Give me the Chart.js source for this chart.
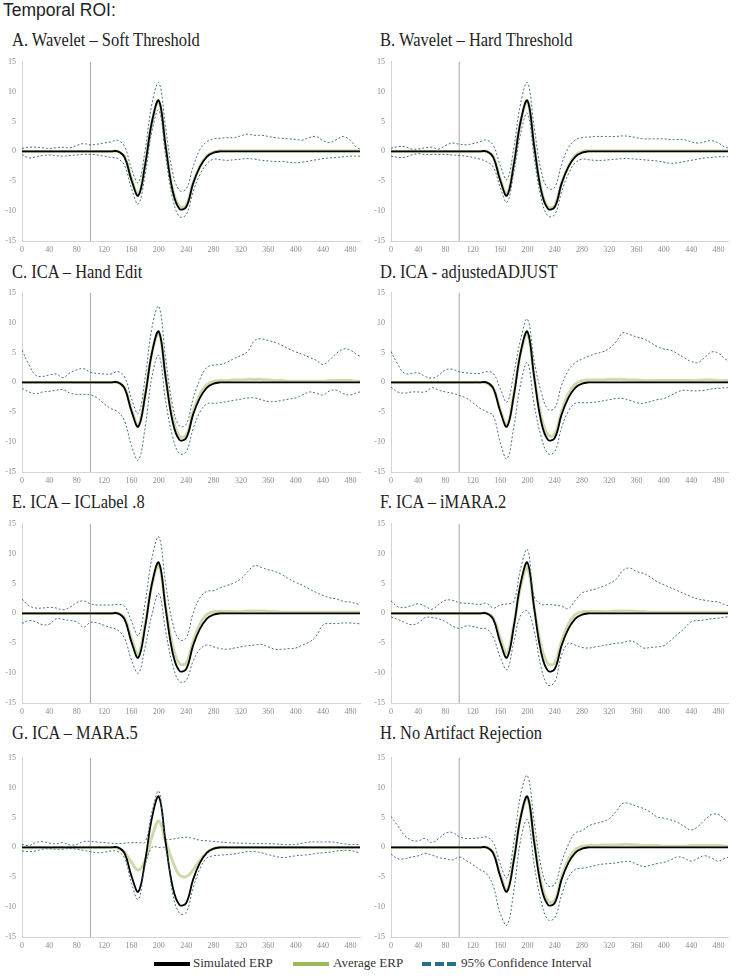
<!DOCTYPE html>
<html>
<head>
<meta charset="utf-8">
<title>Temporal ROI</title>
<script src="https://cdn.jsdelivr.net/npm/chart.js@4"></script>
<style>
    body { margin: 0; background: #fff; }
    #page { position: relative; width: 736px; height: 978px; overflow: hidden;
            font-family: "Liberation Serif", "Times New Roman", serif; color: #222; }
    #roi { position: absolute; left: 3px; top: 0; font-family: "Liberation Sans", Arial, sans-serif;
           font-size: 17.5px; line-height: 20px; white-space: nowrap; }
    .title { position: absolute; font-size: 18.5px; line-height: 22px; white-space: nowrap;
             transform: scaleX(0.89); transform-origin: 0 0; }
    .panel { position: absolute; }
    .key { position: absolute; }
    .key-text { position: absolute; top: 955px; font-size: 13px; line-height: 16px; color: #333; white-space: nowrap; }
</style>
</head>
<body>
<div id="page">
    <div id="roi">Temporal ROI:</div>
</div>
<script>
// time axis (ms) shared by every series
const times = [0,10,20,30,40,50,60,70,80,90,
               100,110,120,130,140,150,160,170,180,190,
               200,210,220,230,240,250,260,270,280,290,
               300,310,320,330,340,350,360,370,380,390,
               400,410,420,430,440,450,460,470,480,490,
               500];
const onsetMs = 100;

const panelTitles = [
    "A. Wavelet – Soft Threshold",
    "B. Wavelet – Hard Threshold",
    "C. ICA – Hand Edit",
    "D. ICA - adjustedADJUST",
    "E. ICA – ICLabel .8",
    "F. ICA – iMARA.2",
    "G. ICA – MARA.5",
    "H. No Artifact Rejection"
];

const legendLabels = ["Simulated ERP", "Average ERP", "95% Confidence Interval"];

// simulated ERP (same in every panel)
const simulated = [0,0,0,0,0,0,0,0,0,0,
                   0,0,0,0,0,-1.0,-4.8,-7.4,-2.2,5.0,
                   8.5,0.8,-6.5,-9.6,-9.3,-5.4,-2.6,-0.9,-0.2,0,
                   0,0,0,0,0,0,0,0,0,0,
                   0,0,0,0,0,0,0,0,0,0,
                   0];

// average ERP per panel
const averageA = [0,0,0,0,0,0,0,0,0,0,
                  0,0,0,0,0,-0.9,-4.6,-7.2,-2.1,4.9,
                  8.4,0.9,-6.2,-9.2,-9.0,-5.3,-2.5,-0.8,-0.1,0.1,
                  0.1,0.1,0.1,0.1,0.1,0.1,0.1,0.1,0.1,0.1,
                  0.1,0.1,0.1,0.1,0.1,0.1,0.1,0.1,0.1,0.1,
                  0.1];
const averageB = [0,0,0,0,0,0,0,0,0,0,
                  0,0,0,0,0,-0.9,-4.6,-7.1,-2.1,4.9,
                  8.4,0.9,-6.3,-9.3,-9.1,-5.3,-2.5,-0.7,0,0.1,
                  0.1,0.1,0.1,0.1,0.1,0.1,0.1,0.1,0.1,0.1,
                  0.1,0.1,0.1,0.1,0.1,0.1,0.1,0.1,0.1,0.1,
                  0.1];
const averageC = [0,0,0,0,0,0,0,0,0,0,
                  0,0,0,0,0,-0.9,-4.5,-7.2,-2.0,5.0,
                  8.3,1.0,-5.8,-9.0,-8.9,-5.0,-2.0,-0.4,0.2,0.3,
                  0.3,0.4,0.4,0.5,0.5,0.5,0.4,0.3,0.3,0.2,
                  0.2,0.2,0.2,0.2,0.2,0.3,0.3,0.3,0.3,0.2,
                  0.2];
const averageD = [0,0,0,0,0,0,0,0,0,0,
                  0,0,0,0,-0.1,-1.0,-4.5,-7.1,-2.0,4.8,
                  8.1,1.0,-5.6,-8.8,-8.7,-4.9,-1.9,-0.3,0.3,0.4,
                  0.4,0.4,0.5,0.5,0.5,0.4,0.4,0.3,0.3,0.3,
                  0.3,0.3,0.3,0.3,0.3,0.3,0.4,0.4,0.3,0.3,
                  0.3];
const averageE = [0,0,0,0,0,0,0,0,0,0,
                  0,0,0,0,0,-0.8,-4.2,-6.8,-1.8,4.8,
                  8.0,1.1,-5.4,-8.4,-8.3,-4.7,-1.8,-0.2,0.3,0.3,
                  0.3,0.3,0.3,0.4,0.4,0.4,0.3,0.3,0.2,0.2,
                  0.2,0.2,0.2,0.2,0.2,0.2,0.2,0.2,0.2,0.2,
                  0.2];
const averageF = [0,0,0,0,0,0,0,0,0,0,
                  0,0,0,0,0,-0.8,-4.1,-6.7,-1.9,4.5,
                  7.6,0.9,-5.4,-8.4,-8.3,-4.7,-1.8,-0.2,0.3,0.3,
                  0.3,0.3,0.3,0.4,0.4,0.4,0.3,0.3,0.2,0.2,
                  0.2,0.2,0.2,0.2,0.2,0.2,0.2,0.2,0.2,0.2,
                  0.2];
const averageG = [0,-0.1,0,0,-0.1,0,0,0,0,0,
                  0,0,0,0,-0.1,-0.8,-2.5,-3.8,-2.2,1.8,
                  4.4,1.0,-2.3,-4.6,-4.9,-3.8,-2.2,-0.9,-0.2,0,
                  0,0,0,0,0,0,0,0,0,0,
                  0,0,0,0,0,0,0,0,0,0,
                  0];
const averageH = [0,0,0,0,0,0,0,0,0,0,
                  0,0,0,0,0,-0.9,-4.5,-7.2,-2.0,5.0,
                  8.3,1.0,-5.8,-9.0,-8.9,-5.0,-2.0,-0.4,0.2,0.3,
                  0.3,0.4,0.4,0.4,0.5,0.5,0.4,0.3,0.3,0.3,
                  0.2,0.2,0.2,0.2,0.3,0.3,0.3,0.3,0.3,0.2,
                  0.2];

// 95% confidence interval, upper and lower bounds per panel
const upperA = [0.5,0.7,0.7,0.6,0.5,0.6,0.7,0.6,1.0,1.3,
                1.1,1.2,1.4,1.6,1.85,0.8,-2.9,-5.2,0.3,8.0,
                11.5,3.9,-3.4,-6.5,-6.3,-2.6,0.3,1.6,2.1,2.2,
                2.3,2.3,2.6,2.9,2.7,2.7,2.5,2.3,2.2,2.1,
                2.0,1.9,2.3,2.5,1.8,1.5,2.0,2.5,1.8,0.6,
                0.4];
const lowerA = [-0.5,-1.1,-0.9,-0.7,-0.6,-0.7,-0.8,-0.7,-0.6,-0.5,
                -0.5,-0.6,-0.8,-1.0,-1.2,-2.4,-6.2,-8.8,-3.8,3.4,
                6.9,-0.8,-7.8,-10.9,-10.6,-6.8,-3.9,-2.1,-1.3,-1.4,
                -1.5,-1.4,-1.3,-1.2,-1.3,-1.5,-1.6,-1.7,-1.7,-1.8,
                -1.9,-1.8,-1.6,-1.4,-1.2,-1.1,-1.0,-0.9,-0.8,-0.8,
                -0.8];
const upperB = [0.5,0.8,0.8,0.4,0.4,0.6,0.7,0.4,1.0,1.4,
                1.2,1.1,1.3,1.6,1.9,1.0,-2.3,-4.7,0.6,8.0,
                11.5,4.0,-3.2,-6.2,-6.0,-2.2,0.6,1.9,2.3,2.4,
                2.5,2.5,2.5,2.5,2.6,2.5,2.3,2.1,2.1,2.1,
                2.1,2.0,2.0,1.95,1.6,1.4,1.6,1.8,1.4,0.7,
                0.5];
const lowerB = [-0.8,-1.0,-1.0,-0.6,-0.4,-0.5,-0.5,-0.5,-0.5,-0.6,
                -0.7,-0.8,-1.0,-1.3,-1.7,-2.6,-6.0,-8.5,-3.6,3.0,
                6.4,-1.2,-7.8,-10.8,-10.6,-6.8,-3.8,-1.9,-1.3,-1.4,
                -1.5,-1.5,-1.4,-1.3,-1.2,-1.2,-1.3,-1.4,-1.5,-1.6,
                -1.8,-2.0,-1.9,-1.7,-1.5,-1.3,-1.1,-1.0,-0.9,-0.9,
                -0.9];
const upperC = [5.4,3.0,1.2,1.0,1.25,1.4,0.8,1.6,2.1,2.3,
                1.7,1.5,1.4,1.4,1.8,0.9,-2.7,-5.2,0.8,9.2,
                12.7,4.0,-3.8,-7.3,-7.0,-2.8,0.5,2.5,2.9,3.0,
                3.4,4.0,4.5,5.2,7.0,7.3,7.0,6.7,6.2,5.6,
                5.1,4.7,4.2,3.7,3.0,3.8,4.9,5.6,5.4,4.6,
                4.2];
const lowerC = [-1.0,-1.6,-1.9,-1.6,-1.5,-1.3,-1.2,-1.8,-2.0,-2.0,
                -2.1,-2.6,-3.6,-4.4,-4.9,-6.5,-10.6,-13.0,-7.5,1.0,
                4.5,-3.2,-9.0,-11.9,-11.6,-7.8,-5.0,-3.6,-3.5,-3.4,
                -3.2,-3.0,-2.8,-2.6,-2.6,-2.9,-3.2,-3.2,-3.0,-2.8,
                -2.6,-2.1,-1.6,-1.8,-2.1,-1.4,-1.3,-1.9,-2.1,-1.7,
                -1.5];
const upperD = [5.2,3.0,1.5,1.5,1.6,1.0,0.7,1.2,2.1,2.2,
                1.8,1.6,1.5,1.5,1.8,1.5,-1.0,-3.3,1.5,7.2,
                10.6,3.5,-1.5,-4.5,-4.3,-0.5,2.0,3.3,3.9,4.4,
                4.8,5.1,5.7,6.8,8.3,8.0,7.6,7.3,6.7,6.0,
                5.6,5.4,4.8,4.1,3.5,3.3,4.2,5.1,4.9,3.9,
                3.3];
const lowerD = [-0.8,-1.6,-1.8,-1.6,-1.6,-1.6,-0.9,-1.3,-1.6,-1.8,
                -2.2,-2.6,-3.4,-4.3,-4.9,-5.6,-10.0,-12.8,-7.5,-0.3,
                3.3,-3.8,-9.0,-11.9,-11.6,-7.6,-4.8,-3.5,-3.4,-3.4,
                -3.3,-3.1,-2.9,-2.7,-2.7,-3.0,-3.4,-3.5,-3.2,-2.9,
                -2.7,-2.2,-1.6,-1.3,-1.4,-1.4,-1.3,-1.1,-1.0,-0.9,
                -0.9];
const upperE = [2.4,1.3,0.9,0.9,1.0,0.9,0.6,1.0,1.8,2.1,
                1.6,1.4,1.4,1.4,1.5,1.2,-1.3,-3.7,1.8,9.3,
                12.8,5.0,-1.5,-4.4,-4.1,0.0,2.6,3.7,3.8,4.3,
                4.7,5.1,5.8,7.0,8.0,7.7,7.3,7.0,6.5,5.8,
                5.2,4.7,4.1,3.5,3.0,2.6,2.4,2.0,1.9,1.6,
                1.4];
const lowerE = [-1.7,-1.2,-1.4,-1.9,-1.8,-0.9,-1.0,-1.2,-1.4,-2.3,
                -1.5,-1.6,-2.0,-2.4,-2.8,-4.2,-7.8,-10.0,-5.6,-0.2,
                3.3,-3.0,-8.5,-11.4,-11.2,-8.0,-6.0,-5.3,-5.6,-5.9,
                -6.0,-5.8,-5.6,-5.4,-5.3,-5.2,-5.6,-6.0,-6.0,-5.9,
                -5.8,-5.3,-4.8,-3.8,-1.9,-1.7,-1.7,-1.6,-1.6,-1.7,
                -1.8];
const upperF = [2.1,1.1,1.0,1.3,1.6,1.2,0.7,1.5,2.2,2.2,
                1.8,1.7,1.6,1.5,1.7,0.9,1.4,1.6,2.0,7.5,
                10.7,2.8,1.5,1.5,1.4,1.2,0.8,2.2,3.4,3.8,
                4.1,4.5,5.0,5.7,7.2,7.6,7.0,6.7,6.1,5.3,
                4.8,4.3,3.8,3.3,2.8,2.4,2.2,2.0,1.9,1.4,
                1.2];
const lowerF = [-0.6,-1.0,-1.5,-1.9,-1.6,-0.7,-0.7,-0.9,-1.4,-2.1,
                -2.5,-2.1,-2.2,-2.5,-2.6,-4.0,-7.3,-9.4,-4.8,-0.3,
                0.4,-3.0,-9.0,-12.0,-11.5,-7.0,-5.0,-5.3,-5.7,-5.8,
                -5.6,-5.4,-5.2,-5.0,-4.9,-4.6,-5.0,-5.8,-5.7,-5.6,
                -5.4,-4.5,-3.5,-2.5,-1.4,-1.2,-1.1,-0.9,-0.8,-0.6,
                -0.6];
const upperG = [0.5,0.3,0.8,1.0,0.7,0.6,0.8,0.4,0.5,1.0,
                1.0,0.9,0.8,0.7,0.65,0.7,0.8,0.8,0.9,6.0,
                9.4,1.5,1.4,1.6,1.7,1.5,1.2,1.1,1.0,0.9,
                0.8,0.75,0.7,0.7,0.65,0.65,0.6,0.6,0.5,0.45,
                0.5,0.7,0.9,0.9,0.9,0.9,0.8,0.6,0.5,0.5,
                0.5];
const lowerG = [-0.6,-0.7,-0.6,-0.3,-0.2,-0.3,-0.3,-0.2,-0.3,-0.5,
                -0.7,-0.9,-0.8,-0.6,-0.7,-1.8,-6.0,-8.7,-3.0,0.0,
                0.0,-0.2,-7.6,-11.0,-10.9,-6.8,-3.6,-1.8,-1.4,-1.3,
                -1.2,-1.1,-0.9,-0.7,-0.7,-0.9,-1.2,-1.5,-1.7,-1.6,
                -1.4,-1.3,-1.2,-1.0,-0.9,-0.8,-0.6,-0.5,-0.5,-0.8,
                -0.9];
const upperH = [5.2,3.6,2.0,1.2,1.1,1.5,0.8,1.5,2.4,2.5,
                1.8,1.5,1.5,1.6,1.75,0.8,-2.7,-5.1,0.8,8.8,
                12.0,4.2,-3.2,-6.4,-6.2,-2.5,0.5,2.4,2.8,3.6,
                4.0,4.3,4.8,6.0,7.4,7.3,6.9,6.5,5.9,5.1,
                4.9,4.6,4.2,3.5,2.9,3.5,4.6,5.5,5.5,4.6,
                4.0];
const lowerH = [-1.1,-1.9,-1.9,-1.6,-1.4,-1.0,-1.3,-1.7,-1.9,-2.1,
                -1.6,-2.2,-2.9,-3.7,-4.4,-6.5,-11.0,-13.0,-7.3,1.2,
                4.6,-3.0,-9.0,-12.1,-11.8,-8.0,-5.0,-3.7,-3.5,-3.3,
                -3.0,-2.8,-2.7,-2.6,-2.4,-2.35,-2.8,-3.2,-3.0,-2.7,
                -2.5,-2.1,-1.6,-1.8,-2.3,-1.8,-1.4,-1.8,-2.3,-1.8,
                -1.5];

const averageSeries = [averageA, averageB, averageC, averageD, averageE, averageF, averageG, averageH];
const upperSeries = [upperA, upperB, upperC, upperD, upperE, upperF, upperG, upperH];
const lowerSeries = [lowerA, lowerB, lowerC, lowerD, lowerE, lowerF, lowerG, lowerH];

// layout of the 2 x 4 grid
const plotTops = [57, 288, 519, 753];
const titleTops = [29, 261, 491, 722];
const colLeft = [0, 368];
const titleLeft = [12, 380];
const yAxisWidth = [22, 23];

const simColor = "#000000";
const avgColor = "rgba(190,205,140,0.75)";
const ciColor = "rgba(45,100,118,0.9)";

Chart.defaults.font.family = '"Liberation Serif", "Times New Roman", serif';

function pts(values) {
    return values.map((v, i) => ({ x: times[i], y: v }));
}

const page = document.getElementById("page");

panelTitles.forEach((title, i) => {
    const col = i % 2;
    const row = Math.floor(i / 2);

    const t = document.createElement("div");
    t.className = "title";
    t.style.left = titleLeft[col] + "px";
    t.style.top = titleTops[row] + "px";
    t.textContent = title;
    page.appendChild(t);

    const canvas = document.createElement("canvas");
    canvas.className = "panel";
    canvas.width = 368;
    canvas.height = 208;
    canvas.style.left = colLeft[col] + "px";
    canvas.style.top = (plotTops[row] - 6) + "px";
    page.appendChild(canvas);

    // higher order is drawn first: onset, average, simulated, CI on top
    new Chart(canvas, {
        type: "line",
        data: {
            datasets: [
                { label: legendLabels[0], data: pts(simulated), borderColor: simColor, borderWidth: 1.8, order: 2 },
                { label: legendLabels[1], data: pts(averageSeries[i]), borderColor: avgColor, borderWidth: 3, order: 3 },
                { label: legendLabels[2], data: pts(upperSeries[i]), borderColor: ciColor, borderWidth: 1, borderDash: [2, 2], order: 1 },
                { label: legendLabels[2], data: pts(lowerSeries[i]), borderColor: ciColor, borderWidth: 1, borderDash: [2, 2], order: 1 },
                // stimulus onset marker
                { label: "onset", data: [{ x: onsetMs, y: -15 }, { x: onsetMs, y: 15 }],
                  borderColor: "#a8a8a8", borderWidth: 1, tension: 0, order: 4 }
            ]
        },
        options: {
            responsive: false,
            animation: false,
            devicePixelRatio: 1,
            layout: { padding: { top: 6, right: 8, left: 0, bottom: 0 } },
            elements: { point: { radius: 0 }, line: { tension: 0.4, fill: false } },
            plugins: { legend: { display: false }, tooltip: { enabled: false } },
            scales: {
                x: {
                    type: "linear", min: 0, max: 494,
                    grid: { display: false, drawTicks: false },
                    border: { color: "#d4d4d4" },
                    ticks: { stepSize: 40, includeBounds: false, autoSkip: false, maxRotation: 0,
                             padding: 4, color: "#8c8c8c", font: { size: 8 } },
                    afterBuildTicks: s => { s.ticks = s.ticks.filter(tk => tk.value % 40 === 0); },
                    afterFit: s => { s.height = 18; }
                },
                y: {
                    min: -15, max: 15,
                    grid: { display: false, drawTicks: false },
                    border: { color: "#d4d4d4" },
                    ticks: { stepSize: 5, padding: 6, color: "#8c8c8c", font: { size: 8 } },
                    afterFit: s => { s.width = yAxisWidth[col]; }
                }
            }
        }
    });
});

// legend along the bottom
page.insertAdjacentHTML("beforeend", `
    <div class="key" style="left:154px; top:962px; width:36px; height:4px; background:${simColor};"></div>
    <div class="key-text" style="left:193px;">${legendLabels[0]}</div>
    <div class="key" style="left:293px; top:962px; width:36px; height:3.5px; background:#9bbb59;"></div>
    <div class="key-text" style="left:333px;">${legendLabels[1]}</div>
    ${[0, 1, 2].map(k => `<div class="key" style="left:${422 + k * 12.5}px; top:962px; width:9px; height:4px; background:#23708c;"></div>`).join("")}
    <div class="key-text" style="left:461px;">${legendLabels[2]}</div>
`);
</script>
</body>
</html>
